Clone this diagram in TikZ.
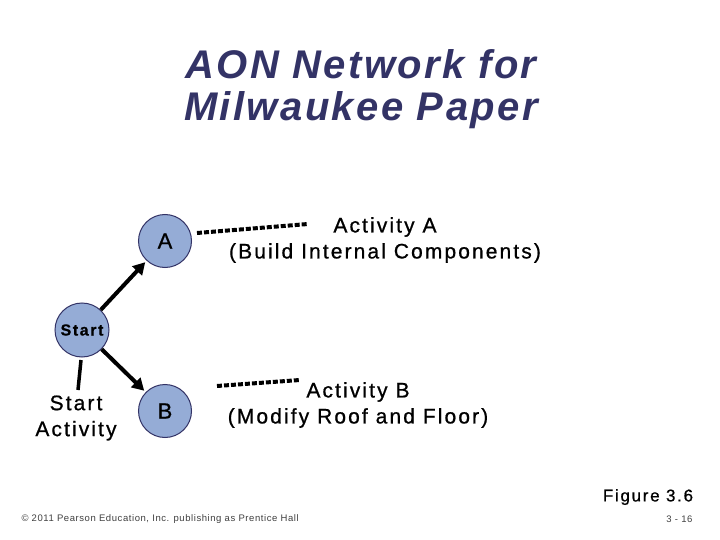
\documentclass[tikz,border=0pt]{standalone}
\usepackage{fontspec}
\setmainfont[LetterSpace=10,FakeBold=0.8]{Liberation Sans}
\newfontfamily\titlefont[LetterSpace=6]{Liberation Sans}
\newfontfamily\footfont[LetterSpace=6]{Liberation Sans}
\usetikzlibrary{arrows.meta}
\definecolor{navy}{RGB}{51,51,102}
\definecolor{nodefill}{RGB}{149,172,214}
\tikzset{
  act/.style={circle,draw=navy,line width=1pt,fill=nodefill,minimum size=53pt,inner sep=0pt,font=\fontsize{22}{24}\selectfont},
  lbl/.style={align=center,font=\fontsize{21}{26}\selectfont},
  prec/.style={line width=4pt,shorten >=2pt,-{Triangle[length=12pt,width=13pt]}},
  lead/.style={line width=4pt,dash pattern=on 5pt off 2pt},
}
\begin{document}
\begin{tikzpicture}[x=1pt,y=-1pt]
\useasboundingbox[fill=white] (0,0) rectangle (720,540);
\node[font=\fontsize{40}{42}\selectfont\titlefont\bfseries\itshape,text=navy,align=center] (title) at (361,89) {AON Network for\\Milwaukee Paper};
\node[act] (A) at (165,241) {A};
\node[act,minimum size=54pt,font=\fontsize{16}{17}\selectfont\bfseries] (S) at (82,330) {Start};
\node[act] (B) at (165,411) {B};
\draw[prec] (S) -- (A);
\draw[prec] (S) -- (B);
\node[lbl] (SA) at (76,418) {Start\\Activity};
\coordinate (s1) at (81,360);
\coordinate (s2) at (78,390);
\draw[line width=3.5pt] (s1) -- (s2);
\node[lbl] (AA) at (385,240) {Activity A\\(Build Internal Components)};
\node[lbl] (BB) at (358,405) {Activity B\\(Modify Roof and Floor)};
\coordinate (a1) at (197,233);
\coordinate (a2) at (308,224);
\draw[lead] (a1) -- (a2);
\coordinate (b1) at (217,386);
\coordinate (b2) at (300,380);
\draw[lead] (b1) -- (b2);
\node[font=\fontsize{17}{18}\selectfont] (fig) at (648,497) {Figure 3.6};
\node[font=\fontsize{9.5}{11}\selectfont\footfont,anchor=west,text=black!75] (foot) at (18,519) {© 2011 Pearson Education, Inc. publishing as Prentice Hall};
\node[font=\fontsize{9.5}{11}\selectfont\footfont,anchor=east,text=black!75] (pg) at (696,519) {3 - 16};
\end{tikzpicture}
\end{document}
